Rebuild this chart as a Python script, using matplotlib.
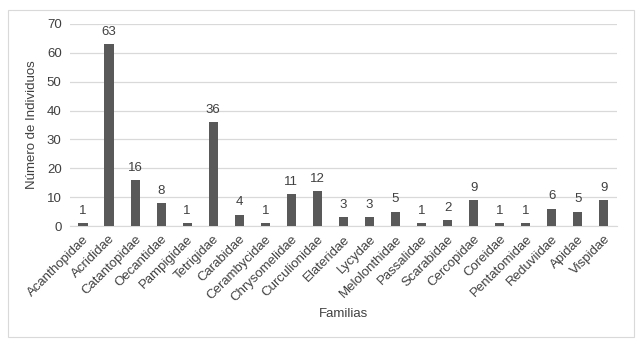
import matplotlib
matplotlib.use("Agg")
import matplotlib.pyplot as plt
from matplotlib.patches import Rectangle

familias = ["Acanthopidae", "Acrididae", "Catantopidae", "Oecantidae", "Pampigidae",
            "Tetrigidae", "Carabidae", "Cerambycidae", "Chrysomelidae", "Curculionidae",
            "Elateridae", "Lycydae", "Melolonthidae", "Passalidae", "Scarabidae",
            "Cercopidae", "Coreidae", "Pentatomidae", "Reduviidae", "Apidae", "Vispidae"]
individuos = [1, 63, 16, 8, 1, 36, 4, 1, 11, 12, 3, 3, 5, 1, 2, 9, 1, 1, 6, 5, 9]
yticks = [0, 10, 20, 30, 40, 50, 60, 70]

plt.rcParams['font.family'] = ['Liberation Sans', 'DejaVu Sans']
fs = 9.5
fig = plt.figure(figsize=(6.36, 3.41), dpi=100)
ax = fig.add_axes([0.110, 0.337, 0.860, 0.593])

x = range(len(familias))
bars = ax.bar(x, individuos, width=0.35, color='#595959', zorder=3)
for xi, v in zip(x, individuos):
    ax.text(xi, v + 2.2, str(v), ha='center', va='bottom', fontsize=fs, color='#404040')

ax.set_ylim(0, 70)
ax.set_xlim(-0.5, len(familias) - 0.5)
ax.set_yticks(yticks)
ax.yaxis.grid(True, color='#d9d9d9', linewidth=0.9, zorder=0)
ax.set_xticks(list(x))
ax.set_xticklabels(familias, rotation=45, ha='right', rotation_mode='anchor', fontsize=fs, color='#404040')
ax.tick_params(axis='both', length=0, labelsize=fs, labelcolor='#404040')
ax.tick_params(axis='x', pad=5)
ax.tick_params(axis='y', pad=6)
for s in ['top', 'right', 'left']:
    ax.spines[s].set_visible(False)
ax.spines['bottom'].set_color('#d9d9d9')
ax.set_ylabel('Número de Individuos', fontsize=fs, color='#404040', labelpad=6)
ax.set_xlabel('Familias', fontsize=fs, color='#404040', labelpad=3)

fig.patches.append(Rectangle((8/636, 1-337/341), 626/636, 327/341, transform=fig.transFigure,
                             fill=False, edgecolor='#d9d9d9', linewidth=0.8))
fig.savefig('out.png', dpi=100)
